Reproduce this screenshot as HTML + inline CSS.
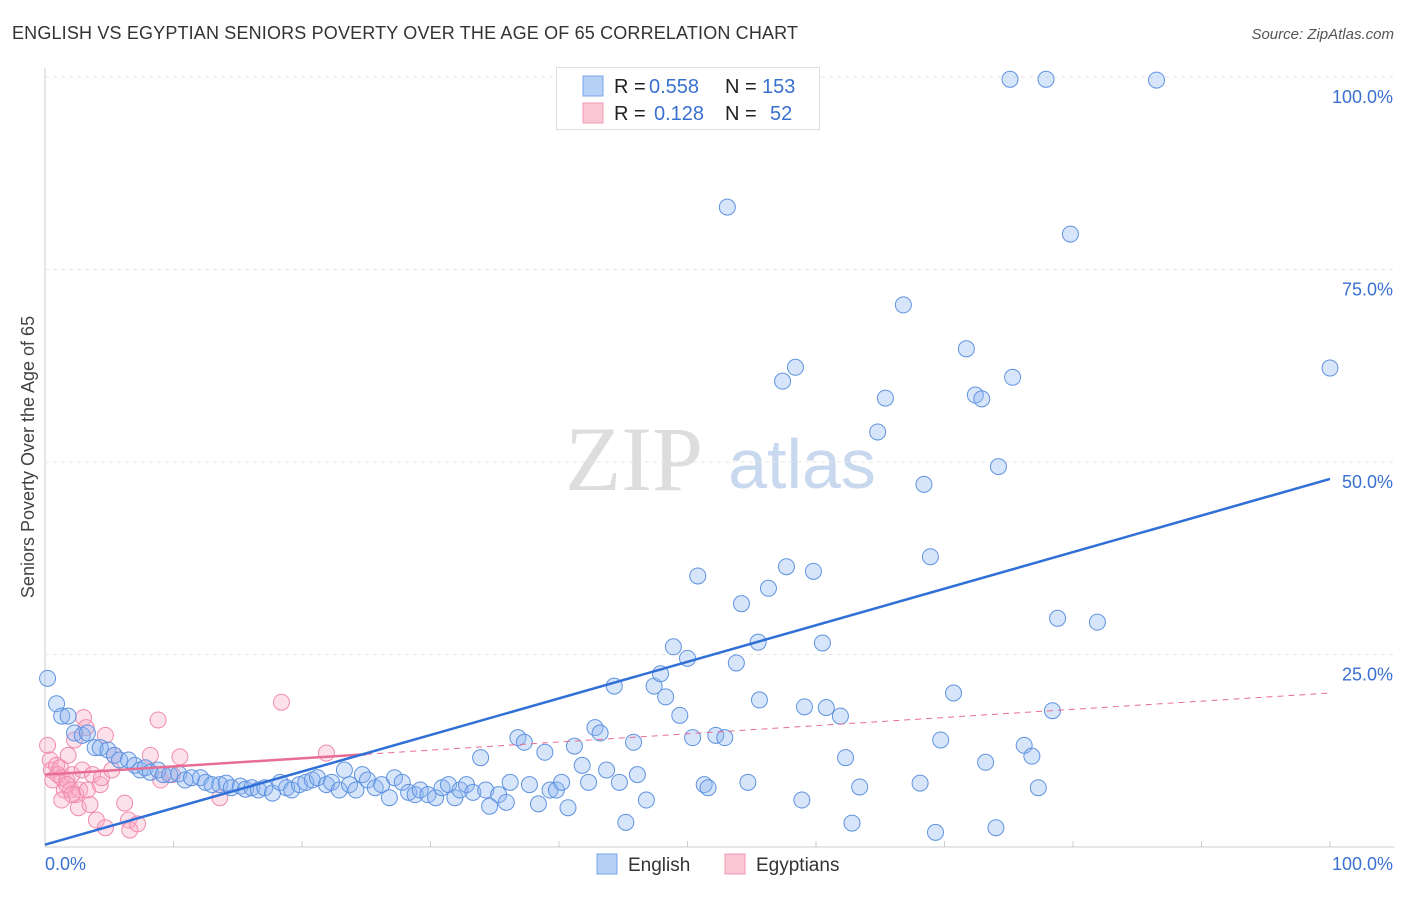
<!DOCTYPE html>
<html><head><meta charset="utf-8">
<style>
body{margin:0;background:#fff;font-family:"Liberation Sans",sans-serif;}
</style></head>
<body>
<svg id="chart" width="1406" height="892" viewBox="0 0 1406 892" xmlns="http://www.w3.org/2000/svg" font-family="Liberation Sans, sans-serif">
<text x="12" y="39" font-size="18" fill="#333" textLength="786">ENGLISH VS EGYPTIAN SENIORS POVERTY OVER THE AGE OF 65 CORRELATION CHART</text>
<text x="1394" y="39" font-size="15" fill="#555" font-style="italic" text-anchor="end">Source: ZipAtlas.com</text>
<text transform="translate(34,457) rotate(-90)" font-size="18" fill="#444" text-anchor="middle">Seniors Poverty Over the Age of 65</text>
<g>
<text x="634" y="490" font-size="92" fill="#ddd" style="font-family:'Liberation Serif',serif" text-anchor="middle">ZIP</text>
<text x="802" y="488" font-size="70" fill="#c8d8ee" text-anchor="middle">atlas</text>
</g>
<g id="grid"></g>
<g id="ticks"></g>
<g id="marks"></g>
<g>
<rect x="556.5" y="67.5" width="263" height="62" fill="#fff" stroke="#ddd"/>
<rect x="583" y="76" width="20" height="20" fill="#b7d0f5" stroke="#7aa5e8"/>
<rect x="583" y="103" width="20" height="20" fill="#fbc6d4" stroke="#ef9ab2"/>
<text x="614" y="93" font-size="20" fill="#222">R =</text>
<text x="649" y="93" font-size="20" fill="#3a70d0">0.558</text>
<text x="725" y="93" font-size="20" fill="#222">N =</text>
<text x="762" y="93" font-size="20" fill="#3a70d0">153</text>
<text x="614" y="120" font-size="20" fill="#222">R =</text>
<text x="654" y="120" font-size="20" fill="#3a70d0">0.128</text>
<text x="725" y="120" font-size="20" fill="#222">N =</text>
<text x="770" y="120" font-size="20" fill="#3a70d0">52</text>
</g>
<g>
<rect x="597" y="854" width="20" height="20" fill="#b7d0f5" stroke="#7aa5e8"/>
<text x="628" y="871" font-size="19" fill="#333">English</text>
<rect x="725" y="854" width="20" height="20" fill="#fbc6d4" stroke="#ef9ab2"/>
<text x="756" y="871" font-size="19" fill="#333">Egyptians</text>
</g>
</svg>
<script>
const englishX=[0.2,0.9,1.3,1.8,2.3,2.9,3.3,3.9,4.3,4.9,5.4,5.8,6.5,7.0,7.4,7.8,8.2,8.8,9.2,9.7,10.4,10.9,11.4,12.1,12.5,13.0,13.6,14.1,14.5,15.2,15.6,16.1,16.6,17.1,17.7,18.3,18.8,19.2,19.8,20.3,20.8,21.2,21.9,22.3,22.9,23.3,23.7,24.2,24.7,25.1,25.7,26.2,26.8,27.2,27.8,28.3,28.8,29.2,29.8,30.4,30.9,31.4,31.9,32.3,32.8,33.3,33.9,34.3,34.6,35.3,35.9,36.2,36.8,37.3,37.7,38.4,38.9,39.3,39.8,40.2,40.7,41.2,41.8,42.3,42.8,43.2,43.7,44.3,44.7,45.2,45.8,46.1,46.8,47.4,47.9,48.3,48.9,49.4,50.0,50.4,50.8,51.3,51.6,52.2,52.9,53.1,53.8,54.2,54.7,55.5,55.6,56.3,57.4,57.7,58.4,58.9,59.1,59.8,60.5,60.8,61.9,62.3,62.8,63.4,64.8,65.4,66.8,68.1,68.4,68.9,69.3,69.7,70.7,71.7,72.4,72.9,73.2,74.0,74.2,75.1,75.3,76.2,76.8,77.3,77.9,78.4,78.8,79.8,81.9,86.5,100];
const englishY=[21.9,18.6,17.0,17.0,14.8,14.5,14.8,12.9,12.9,12.6,11.9,11.3,11.3,10.6,10.0,10.3,9.7,10.0,9.4,9.4,9.5,8.7,9.0,9.0,8.4,8.1,8.1,8.3,7.7,7.9,7.5,7.7,7.4,7.7,7.0,8.4,7.7,7.4,8.1,8.4,8.7,9.0,8.1,8.4,7.4,10.0,8.1,7.4,9.4,8.7,7.7,8.1,6.4,9.0,8.4,7.1,6.8,7.4,6.8,6.4,7.7,8.1,6.4,7.4,8.1,7.1,11.6,7.4,5.3,6.8,5.8,8.4,14.2,13.6,8.1,5.6,12.3,7.4,7.4,8.4,5.1,13.1,10.6,8.4,15.5,14.8,10.0,20.9,8.4,3.2,13.6,9.4,6.1,20.9,22.5,19.5,26.0,17.1,24.5,14.2,35.2,8.1,7.7,14.5,14.2,83.1,23.9,31.6,8.4,26.6,19.1,33.6,60.5,36.4,62.3,6.1,18.2,35.8,26.5,18.1,17.0,11.6,3.1,7.8,53.9,58.3,70.4,8.3,47.1,37.7,1.9,13.9,20.0,64.7,58.7,58.2,11.0,2.5,49.4,99.7,61.0,13.2,11.8,7.7,99.7,17.7,29.7,79.6,29.2,99.6,62.2];
const egyptX=[0.2,0.4,0.5,0.6,0.9,1.0,1.2,1.3,1.5,1.7,1.8,2.0,2.1,2.3,2.4,2.6,2.7,2.9,3.0,3.2,3.3,3.5,3.7,4.0,4.3,4.4,4.7,4.7,5.2,5.4,6.2,6.5,6.6,7.2,8.2,8.8,9.0,9.9,10.5,13.6,18.4,21.9,1.3,1.7,2.1];
const egyptY=[13.2,11.3,10.0,8.7,10.6,9.4,10.3,9.0,7.4,8.7,11.9,7.4,9.4,13.9,6.8,5.1,7.4,10.0,16.8,15.5,7.4,5.5,9.4,3.5,8.1,9.0,14.5,2.5,10.0,11.9,5.7,3.5,2.2,3.0,11.9,16.5,8.7,9.4,11.7,6.4,18.8,12.2,6.1,8.1,6.8];
const englishTrend=[0.3,47.8];
const egyptTrend=[9.4,20.0];
const egyptSolidEnd=25;
const yTicks=[25,50,75,100];
const yTickLabels=["25.0%","50.0%","75.0%","100.0%"];
const xTickLabels=["0.0%","100.0%"];

const X0=45,X1=1330,Y0=847,Y1=77;
const sx=v=>X0+(X1-X0)*v/100;
const sy=v=>Y0-(Y0-Y1)*v/100;
const NS="http://www.w3.org/2000/svg";
function mk(tag,attrs,parent){const e=document.createElementNS(NS,tag);for(const k in attrs)e.setAttribute(k,attrs[k]);parent.appendChild(e);return e;}
const grid=document.getElementById('grid'),ticks=document.getElementById('ticks'),marks=document.getElementById('marks');

let ax=mk('line',{x1:X0,y1:68,x2:X0,y2:Y0,stroke:'#ccc'},grid);


let bx=mk('line',{x1:X0,y1:Y0,x2:1394,y2:Y0,stroke:'#ccc'},grid);


yTicks.forEach((t,i)=>{
  const g=mk('line',{x1:X0,y1:sy(t),x2:1394,y2:sy(t),stroke:'#e6e6e6','stroke-dasharray':'4,4'},grid);
  
  
  const l=mk('text',{x:1393,y:sy(t)+26,'font-size':18,fill:'#3a70d0','text-anchor':'end'},ticks);
  l.textContent=yTickLabels[i];
  
  
});
for(let i=1;i<=10;i++){
  const t=mk('line',{x1:sx(i*10),y1:Y0,x2:sx(i*10),y2:Y0-6,stroke:'#ccc'},grid);
  
  
}
const xl0=mk('text',{x:45,y:870,'font-size':18,fill:'#3a70d0'},ticks);
xl0.textContent=xTickLabels[0];


const xl1=mk('text',{x:1393,y:870,'font-size':18,fill:'#3a70d0','text-anchor':'end'},ticks);
xl1.textContent=xTickLabels[1];



egyptX.forEach((x,i)=>{
  const c=mk('circle',{cx:sx(x),cy:sy(egyptY[i]),r:8,fill:'rgba(248,170,195,0.35)',stroke:'#f08aac','stroke-width':1},marks);
  
  
});
englishX.forEach((x,i)=>{
  const c=mk('circle',{cx:sx(x),cy:sy(englishY[i]),r:8,fill:'rgba(140,180,240,0.35)',stroke:'#5f93e0','stroke-width':1},marks);
  
  
});
const eg=v=>egyptTrend[0]+(egyptTrend[1]-egyptTrend[0])*v/100;
const pd=mk('line',{x1:sx(egyptSolidEnd),y1:sy(eg(egyptSolidEnd)),x2:sx(100),y2:sy(eg(100)),stroke:'#e86d95','stroke-width':1,'stroke-dasharray':'6,5'},marks);


const ps=mk('line',{x1:sx(0),y1:sy(eg(0)),x2:sx(egyptSolidEnd),y2:sy(eg(egyptSolidEnd)),stroke:'#e86d95','stroke-width':2.5},marks);


const bl=mk('line',{x1:sx(0),y1:sy(englishTrend[0]),x2:sx(100),y2:sy(englishTrend[1]),stroke:'#2f6fd6','stroke-width':2.5},marks);


</script>
</body></html>
